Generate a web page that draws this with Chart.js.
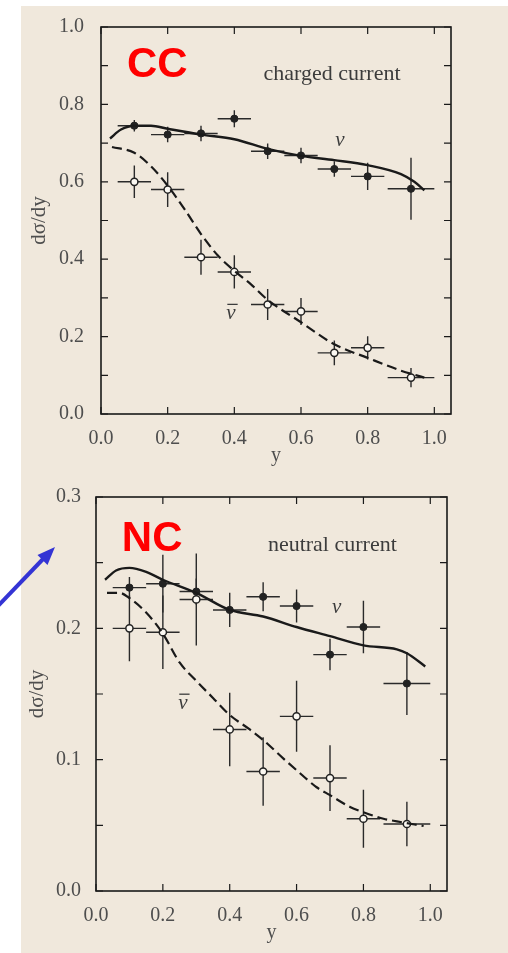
<!DOCTYPE html>
<html>
<head>
<meta charset="utf-8">
<script src="https://cdn.jsdelivr.net/npm/chart.js@4.4.7/dist/chart.umd.min.js"></script>
<style>
  html, body { margin: 0; padding: 0; background: #fff; }
  #page { position: relative; width: 508px; height: 953px; overflow: hidden; }
  #paper { position: absolute; left: 21px; top: 6px; width: 487px; height: 947px; background: #f0e8dc; }
  .box { position: absolute; left: 21px; width: 487px; }
  #cc-box { top: 6px; height: 470px; }
  #nc-box { top: 476px; height: 477px; }
  #arrow { position: absolute; left: 0; top: 0; }
</style>
</head>
<body>
<div id="page">
  <div id="paper"></div>
  <div class="box" id="cc-box"><canvas id="cc"></canvas></div>
  <div class="box" id="nc-box"><canvas id="nc"></canvas></div>
  <svg id="arrow" width="508" height="953">
    <line x1="-2" y1="606" x2="44" y2="558" stroke="#3434d4" stroke-width="4"/>
    <polygon points="55,547 47.5,565 37.5,555" fill="#3434d4"/>
  </svg>
</div>
<script>
// y bins (same for both panels)
var binX = [0.1, 0.2, 0.3, 0.4, 0.5, 0.6, 0.7, 0.8, 0.93];
var binHalfWidth = [0.05, 0.05, 0.05, 0.05, 0.05, 0.05, 0.05, 0.05, 0.07];

// charged current
var ccNu = [0.745, 0.722, 0.725, 0.763, 0.679, 0.668, 0.633, 0.614, 0.582];
var ccNuErr = [0.015, 0.02, 0.02, 0.022, 0.02, 0.02, 0.02, 0.035, 0.08];
var ccNuBar = [0.6, 0.58, 0.405, 0.367, 0.283, 0.265, 0.158, 0.171, 0.094];
var ccNuBarErr = [0.042, 0.045, 0.045, 0.043, 0.04, 0.035, 0.032, 0.03, 0.025];

var ccNuCurveX = [0.027, 0.06, 0.1, 0.15, 0.2, 0.3, 0.4, 0.5, 0.6, 0.7, 0.8, 0.9, 0.94, 0.97];
var ccNuCurveY = [0.712, 0.735, 0.745, 0.745, 0.737, 0.722, 0.71, 0.685, 0.667, 0.656, 0.643, 0.62, 0.6, 0.578];
var ccNuBarCurveX = [0.033, 0.1, 0.15, 0.2, 0.25, 0.3, 0.35, 0.4, 0.45, 0.5, 0.6, 0.7, 0.8, 0.9, 0.97];
var ccNuBarCurveY = [0.69, 0.675, 0.64, 0.59, 0.53, 0.465, 0.41, 0.37, 0.335, 0.295, 0.237, 0.18, 0.145, 0.112, 0.094];

// neutral current
var ncNu = [0.231, 0.234, 0.228, 0.214, 0.224, 0.217, 0.18, 0.201, 0.158];
var ncNuErr = [0.008, 0.022, 0.01, 0.013, 0.011, 0.0125, 0.012, 0.02, 0.024];
var ncNuBar = [0.2, 0.197, 0.222, 0.123, 0.091, 0.133, 0.086, 0.055, 0.051];
var ncNuBarErr = [0.025, 0.028, 0.035, 0.028, 0.026, 0.027, 0.025, 0.022, 0.017];

var ncNuCurveX = [0.027, 0.06, 0.1, 0.15, 0.2, 0.3, 0.4, 0.5, 0.6, 0.7, 0.8, 0.9, 0.93, 0.985];
var ncNuCurveY = [0.237, 0.244, 0.246, 0.243, 0.237, 0.227, 0.214, 0.209, 0.201, 0.194, 0.187, 0.184, 0.181, 0.171];
var ncNuBarCurveX = [0.033, 0.07, 0.1, 0.15, 0.2, 0.25, 0.3, 0.35, 0.4, 0.46, 0.5, 0.56, 0.6, 0.66, 0.7, 0.76, 0.8, 0.86, 0.9, 0.98];
var ncNuBarCurveY = [0.227, 0.227, 0.223, 0.212, 0.196, 0.174, 0.16, 0.147, 0.134, 0.123, 0.115, 0.101, 0.092, 0.079, 0.073, 0.064, 0.06, 0.055, 0.053, 0.0495];

var xTicks = { min: 0, max: 1.05, step: 0.2 };

var INK = '#1a1a1a';
var LABEL = '#4e4e4e';
var SERIF = '"Liberation Serif", "DejaVu Serif", serif';

function pts(xs, ys) {
  return xs.map(function (x, i) { return { x: x, y: ys[i] }; });
}

// error bars, drawn under the markers
var errorBars = {
  id: 'errorBars',
  beforeDatasetsDraw: function (chart) {
    var ctx = chart.ctx, xs = chart.scales.x, ys = chart.scales.y;
    ctx.save();
    ctx.strokeStyle = '#2a2a2a';
    ctx.lineWidth = 1.4;
    chart.data.datasets.forEach(function (ds) {
      if (!ds.errY) return;
      ds.data.forEach(function (p, i) {
        var px = xs.getPixelForValue(p.x), py = ys.getPixelForValue(p.y);
        ctx.beginPath();
        ctx.moveTo(xs.getPixelForValue(p.x - ds.errX[i]), py);
        ctx.lineTo(xs.getPixelForValue(p.x + ds.errX[i]), py);
        ctx.moveTo(px, ys.getPixelForValue(p.y - ds.errY[i]));
        ctx.lineTo(px, ys.getPixelForValue(p.y + ds.errY[i]));
        ctx.stroke();
      });
    });
    ctx.restore();
  }
};

// box frame, inward ticks and text labels
var frame = {
  id: 'frame',
  afterDraw: function (chart, args, opts) {
    var ctx = chart.ctx, a = chart.chartArea;
    var xs = chart.scales.x, ys = chart.scales.y;
    ctx.save();
    ctx.strokeStyle = INK;
    ctx.lineWidth = 1.6;
    ctx.strokeRect(a.left, a.top, a.right - a.left, a.bottom - a.top);
    ctx.lineWidth = 1.2;
    ctx.beginPath();
    xs.ticks.forEach(function (t) {
      var px = xs.getPixelForValue(t.value);
      ctx.moveTo(px, a.bottom); ctx.lineTo(px, a.bottom - 7);
      ctx.moveTo(px, a.top); ctx.lineTo(px, a.top + 7);
    });
    ys.ticks.forEach(function (t) {
      var py = ys.getPixelForValue(t.value);
      ctx.moveTo(a.left, py); ctx.lineTo(a.left + 7, py);
      ctx.moveTo(a.right, py); ctx.lineTo(a.right - 7, py);
    });
    ctx.stroke();

    ctx.textAlign = 'center';
    ctx.textBaseline = 'middle';
    (opts.notes || []).forEach(function (n) {
      var cx = xs.getPixelForValue(n.x), cy = ys.getPixelForValue(n.y);
      ctx.font = n.font;
      ctx.fillStyle = n.color;
      ctx.fillText(n.text, cx, cy);
      if (n.bar) {
        // antineutrino bar over the nu
        var w = ctx.measureText(n.text).width;
        ctx.strokeStyle = n.color;
        ctx.lineWidth = 1.3;
        ctx.beginPath();
        ctx.moveTo(cx - w / 2 + 1, cy - 9);
        ctx.lineTo(cx + w / 2 + 2, cy - 9);
        ctx.stroke();
      }
    });
    ctx.restore();
  }
};

function makeChart(id, cfg) {
  var ctx = document.getElementById(id).getContext('2d');
  return new Chart(ctx, {
    type: 'scatter',
    data: {
      datasets: [
        {
          data: pts(cfg.nuCurveX, cfg.nuCurveY),
          showLine: true, borderColor: INK, borderWidth: 2.4,
          pointRadius: 0, cubicInterpolationMode: 'monotone'
        },
        {
          data: pts(cfg.barCurveX, cfg.barCurveY),
          showLine: true, borderColor: INK, borderWidth: 2.2, borderDash: [10, 5],
          pointRadius: 0, cubicInterpolationMode: 'monotone'
        },
        {
          data: pts(binX, cfg.nu), errX: binHalfWidth, errY: cfg.nuErr,
          pointRadius: 3.6, pointBackgroundColor: '#222', pointBorderColor: '#222', pointBorderWidth: 1
        },
        {
          data: pts(binX, cfg.bar), errX: binHalfWidth, errY: cfg.barErr,
          pointRadius: 3.6, pointBackgroundColor: '#fbf8f2', pointBorderColor: '#222', pointBorderWidth: 1.5
        }
      ]
    },
    options: {
      responsive: true,
      maintainAspectRatio: false,
      animation: false,
      events: [],
      layout: { padding: { left: 0, right: cfg.padRight, top: cfg.padTop, bottom: 0 } },
      plugins: {
        legend: { display: false },
        tooltip: { enabled: false },
        frame: { notes: cfg.notes }
      },
      scales: {
        x: {
          type: 'linear',
          min: xTicks.min,
          max: xTicks.max,
          grid: { display: false },
          border: { display: false },
          ticks: {
            stepSize: xTicks.step,
            includeBounds: false,
            padding: 5,
            color: LABEL,
            font: { family: SERIF, size: 20 },
            maxRotation: 0,
            callback: function (v) { return v.toFixed(1); }
          },
          title: {
            display: true, text: 'y', color: LABEL,
            font: { family: SERIF, size: 20 },
            padding: { top: 0, bottom: 8 }
          },
          afterFit: function (s) { s.height = 62; }
        },
        y: {
          type: 'linear',
          min: 0,
          max: cfg.yMax,
          grid: { display: false },
          border: { display: false },
          ticks: {
            stepSize: cfg.yMinor,
            padding: cfg.yPad,
            color: LABEL,
            font: { family: SERIF, size: 20 },
            callback: function (v) {
              return Math.round(v / cfg.yMinor) % 2 === 0 ? v.toFixed(1) : '';
            }
          },
          title: {
            display: true, text: 'dσ/dy', color: LABEL,
            font: { family: SERIF, size: 21 },
            padding: { top: cfg.titlePad, bottom: 0 }
          },
          afterFit: function (s) { s.width = cfg.yWidth; }
        }
      }
    },
    plugins: [errorBars, frame]
  });
}

var redFont = 'bold 42px "Liberation Sans", Arial, sans-serif';
var textFont = '22px ' + SERIF;
var nuFont = 'italic 21px ' + SERIF;

makeChart('cc', {
  nu: ccNu, nuErr: ccNuErr, bar: ccNuBar, barErr: ccNuBarErr,
  nuCurveX: ccNuCurveX, nuCurveY: ccNuCurveY,
  barCurveX: ccNuBarCurveX, barCurveY: ccNuBarCurveY,
  yMax: 1.0, yMinor: 0.1, yPad: 9, yWidth: 80, titlePad: 6,
  padRight: 57, padTop: 16,
  notes: [
    { text: 'CC', x: 0.169, y: 0.9, font: redFont, color: '#ff0000' },
    { text: 'charged current', x: 0.693, y: 0.878, font: textFont, color: '#3c3c3c' },
    { text: 'ν', x: 0.717, y: 0.707, font: nuFont, color: '#3c3c3c' },
    { text: 'ν', x: 0.39, y: 0.26, font: nuFont, color: '#3c3c3c', bar: true }
  ]
});

makeChart('nc', {
  nu: ncNu, nuErr: ncNuErr, bar: ncNuBar, barErr: ncNuBarErr,
  nuCurveX: ncNuCurveX, nuCurveY: ncNuCurveY,
  barCurveX: ncNuBarCurveX, barCurveY: ncNuBarCurveY,
  yMax: 0.3, yMinor: 0.05, yPad: 7, yWidth: 75, titlePad: 4,
  padRight: 61, padTop: 21,
  notes: [
    { text: 'NC', x: 0.168, y: 0.268, font: redFont, color: '#ff0000' },
    { text: 'neutral current', x: 0.707, y: 0.2635, font: textFont, color: '#3c3c3c' },
    { text: 'ν', x: 0.72, y: 0.216, font: nuFont, color: '#3c3c3c' },
    { text: 'ν', x: 0.26, y: 0.143, font: nuFont, color: '#3c3c3c', bar: true }
  ]
});
</script>
</body>
</html>
